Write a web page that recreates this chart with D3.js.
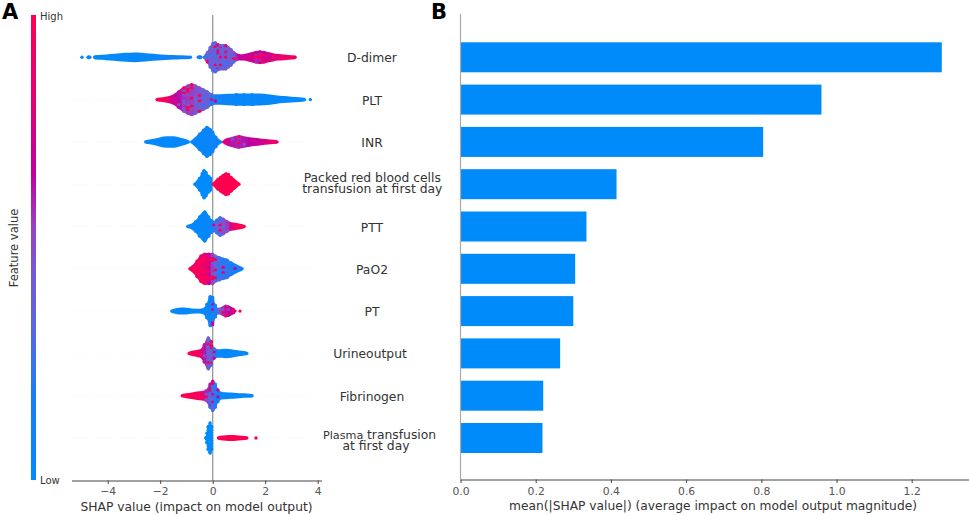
<!DOCTYPE html>
<html><head><meta charset="utf-8">
<script src="https://cdn.jsdelivr.net/npm/d3@7"></script>
<style>
html,body{margin:0;padding:0;background:#fff}
svg{display:block}
text{font-family:"DejaVu Sans",sans-serif}
</style></head><body>
<svg id="c" width="969" height="515"></svg>
<script>
const features = ["D-dimer","PLT","INR","Packed red blood cells\ntransfusion at first day","PTT","PaO2","PT","Urineoutput","Fibrinogen","Plasma transfusion\nat first day"];
const meanAbsShap = [1.28,0.96,0.805,0.415,0.335,0.305,0.30,0.265,0.22,0.218];
const shapTicks = [-4,-2,0,2,4];
const meanTicks = [0,0.2,0.4,0.6,0.8,1.0,1.2];

// knots of each swarm: shap value, local point density, mean feature value (0 low .. 1 high)
const dDimerShap = [-4.98,-4.93,-4.75,-4.68,-4.6,-4.5,-4.2,-3.9,-3.6,-3.3,-3.0,-2.7,-2.4,-2.1,-1.8,-1.5,-1.2,-0.85,-0.7,-0.55,-0.45,-0.38,-0.32,-0.2,-0.1,0,0.1,0.2,0.3,0.4,0.5,0.6,0.7,0.8,0.9,1.0,1.1,1.2,1.35,1.5,1.65,1.8,1.95,2.1,2.3,2.5,2.7,2.9,3.14];
const dDimerDensity = [1.5,0,1.5,1.5,0,1.8,2.2,3,3.6,4.2,4.6,4.2,3.4,2.8,2.3,1.9,1.6,1.3,0,1.6,1.6,0,2.5,6,11,15,16,14,13,13,13,11,9,6,4,3,2.8,3,4,5,6,6.5,6,5,3.8,3,2.6,2,1.5];
const dDimerFeature = [.02,.02,.02,.02,.02,.02,.03,.03,.04,.04,.05,.05,.07,.08,.1,.1,.1,.1,.1,.1,.1,.2,.36,.4,.42,.42,.42,.42,.42,.42,.42,.42,.45,.48,.6,.66,.68,.7,.72,.74,.72,.7,.72,.76,.8,.85,.88,.92,.95];

const pltShap = [-2.12,-1.9,-1.7,-1.5,-1.3,-1.1,-0.95,-0.8,-0.65,-0.5,-0.35,-0.2,-0.05,0.1,0.3,0.6,0.9,1.2,1.5,1.8,2.1,2.4,2.7,3.0,3.3,3.5,3.62,3.72];
const pltDensity = [1.5,2,3,5,9,13,15,16.5,15,13,11,9,6,5,5,5.5,6,6,6,5.8,5.2,4,3.2,2.5,2,1.5,0,1.6];
const pltFeature = [1,.98,.88,.72,.64,.58,.56,.54,.5,.46,.42,.38,.3,.18,.1,.07,.05,.05,.05,.05,.04,.04,.03,.03,.03,.03,.03,.03];

const inrShap = [-2.55,-2.4,-2.2,-2.0,-1.75,-1.5,-1.3,-1.1,-0.93,-0.87,-0.8,-0.65,-0.5,-0.35,-0.22,-0.1,0,0.12,0.3,0.36,0.42,0.55,0.75,1.0,1.2,1.4,1.6,1.8,2.0,2.2,2.45];
const inrDensity = [1.5,2,3,4.5,5.5,5.5,4.5,3,1.5,0,1.5,5,9,13,16,14,11,6,1.5,0,1.8,3.5,5,6.5,5.5,4.5,3.8,3.2,2.6,2,1.4];
const inrFeature = [.03,.03,.03,.03,.03,.03,.03,.03,.03,.03,.03,.04,.05,.06,.07,.08,.08,.1,.12,.3,.9,.75,.62,.6,.62,.66,.68,.72,.76,.85,.95];

const packedShap = [-0.68,-0.6,-0.5,-0.4,-0.33,-0.25,-0.15,-0.08,-0.03,0,0.02,0.1,0.2,0.3,0.4,0.5,0.6,0.7,0.85,1.0];
const packedDensity = [1.5,4,7,12,15,13,9,7,3,0,1.5,4,6,8,10,11.7,11,8,5,1.5];
const packedFeature = [0,0,0,0,0,0,0,0,0,.5,1,1,1,1,1,1,1,1,1,1];

const pttShap = [-0.95,-0.82,-0.65,-0.5,-0.3,-0.15,-0.05,0.05,0.15,0.28,0.4,0.55,0.7,0.85,1.0,1.2];
const pttDensity = [1.5,2.5,6,11,16,11,7,5.5,7.5,10,8.5,6,4,3.5,2.8,1.5];
const pttFeature = [.03,.04,.04,.04,.05,.05,.06,.25,.36,.42,.48,.56,.76,.92,.98,1];

const pao2Shap = [-0.87,-0.75,-0.6,-0.45,-0.3,-0.15,0,0.1,0.25,0.4,0.55,0.7,0.85,1.0,1.12];
const pao2Density = [1.5,4,9,14,16,16,16,14,12.5,11,10,7,5,3,1.5];
const pao2Feature = [.92,.96,.96,.96,.92,.85,.55,.34,.28,.26,.24,.2,.18,.12,.08];

const ptShap = [-1.56,-1.4,-1.2,-1.0,-0.8,-0.5,-0.35,-0.22,-0.1,0,0.1,0.2,0.3,0.4,0.5,0.6,0.72,0.85,0.95,1.04];
const ptDensity = [1.5,2.5,3.2,3,2.4,2,3,8,16,15,7,3,3.5,5,6,5.5,3.8,2.2,0,1.6];
const ptFeature = [.03,.03,.03,.03,.03,.04,.05,.07,.09,.14,.2,.35,.5,.58,.62,.66,.72,.82,.95,1];

const urineShap = [-0.9,-0.75,-0.6,-0.45,-0.32,-0.17,-0.05,0.05,0.2,0.35,0.5,0.7,0.9,1.1,1.3];
const urineDensity = [1.5,2.5,3.2,4.5,10,17,13,6,4,4.2,4.5,4,3,2.2,1.5];
const urineFeature = [.95,.95,.95,.88,.62,.48,.44,.25,.06,.05,.05,.04,.04,.04,.04];

const fibShap = [-1.16,-1.0,-0.8,-0.6,-0.4,-0.25,-0.1,0,0.1,0.2,0.35,0.5,0.7,0.9,1.1,1.3,1.5];
const fibDensity = [1.5,2.2,3,4,4.5,6,13,16,13,7,3.5,3.2,2.8,2.4,2,1.8,1.4];
const fibFeature = [1,1,.98,.96,.88,.6,.34,.3,.24,.16,.08,.05,.05,.04,.04,.04,.04];

const plasmaShap = [-0.27,-0.22,-0.17,-0.1,-0.04,-0.02,0.22,0.3,0.5,0.7,0.9,1.1,1.3,1.45,1.65];
const plasmaDensity = [1.5,6,13,16.5,13,0,1.5,2,2.4,2.7,2.5,2,1.5,0,1.8];
const plasmaFeature = [0,0,0,0,0,.5,1,1,1,1,1,1,1,1,1];

const swarms = [
 [dDimerShap,dDimerDensity,dDimerFeature],[pltShap,pltDensity,pltFeature],[inrShap,inrDensity,inrFeature],
 [packedShap,packedDensity,packedFeature],[pttShap,pttDensity,pttFeature],[pao2Shap,pao2Density,pao2Feature],
 [ptShap,ptDensity,ptFeature],[urineShap,urineDensity,urineFeature],[fibShap,fibDensity,fibFeature],[plasmaShap,plasmaDensity,plasmaFeature]];

const svg = d3.select("#c");
const defs = svg.append("defs");
const ink = "#333";

const colorStops = [[0,"#008bfb"],[0.18,"#1a7df5"],[0.33,"#5a68e0"],[0.45,"#7a58d0"],[0.55,"#9a40c0"],[0.66,"#c000a0"],[0.8,"#e0007c"],[1,"#ff0051"]];
const color = d3.scaleLinear().domain(colorStops.map(d=>d[0])).range(colorStops.map(d=>d[1])).clamp(true);

const xS = d3.scaleLinear().domain([-4,4]).range([107.7,317.7]);
const xB = d3.scaleLinear().domain([0,1.2]).range([460.5,911.7]);
const y = d3.scalePoint().domain(features).range([57.3,438]);
const spread = d3.scaleLinear().domain([0,16]).range([0,15.5]);
const AXIS_Y = 480.5;

svg.append("g").selectAll("line").data(features).join("line")
  .attr("x1",72).attr("x2",312).attr("y1",d=>y(d)).attr("y2",d=>y(d))
  .attr("stroke","#f0f0f0").attr("stroke-width",.8).attr("stroke-dasharray","1 2");

svg.append("line").attr("x1",xS(0)).attr("x2",xS(0)).attr("y1",15).attr("y2",AXIS_Y)
  .attr("stroke","#999").attr("stroke-width",1.3);

features.forEach((name,i)=>{
  const [sx,sd,sf] = swarms[i];
  const pts = sx.map((v,k)=>({v,d:sd[k],f:sf[k]}));
  const cy = y(name);
  const gid = "sw"+i, x0 = xS(sx[0]), x1 = xS(sx[sx.length-1]);
  const g = defs.append("linearGradient").attr("id",gid).attr("gradientUnits","userSpaceOnUse")
    .attr("x1",x0).attr("x2",x1).attr("y1",0).attr("y2",0);
  pts.forEach(p=>g.append("stop").attr("offset",(xS(p.v)-x0)/(x1-x0)).attr("stop-color",color(p.f)));
  const area = d3.area().defined(p=>p.d>0).x(p=>xS(p.v))
    .y0(p=>cy-spread(p.d)-.4).y1(p=>cy+spread(p.d)+.4).curve(d3.curveMonotoneX);
  svg.append("path").attr("d",area(pts)).attr("fill",`url(#${gid})`);
  const dots = [];
  pts.forEach((p,k)=>{
    if(!(p.d>0)) return;
    const tip = k===0 || k===pts.length-1 || !(pts[k-1].d>0) || !(pts[k+1].d>0);
    if(p.d<4.5 && !tip) return;
    const h = Math.max(0,spread(p.d)-1);
    const n = Math.floor(h/2.6);
    const offs = [];
    const shift = (k%2)*1.3;
    for(let j=-n;j<=n;j++){ const o=j*2.6+shift; if(Math.abs(o)<=h) offs.push(o); }
    if(p.d>=6) offs.push(-h,h);
    if(!offs.length) offs.push(0);
    offs.forEach((o,j)=>{
      const mixed = p.f>0.1 && p.f<0.98;
      const pick = (k*k*3+j*j*5+k*j*2+j)%7;
      let f = p.f;
      if(mixed){ if(pick===0) f = Math.min(1,p.f+0.5); else if(pick===3||pick===5) f = Math.max(0,p.f-0.14); }
      dots.push({x:xS(p.v),y:cy+o,f});
    });
  });
  svg.append("g").selectAll("circle").data(dots).join("circle")
    .attr("cx",d=>d.x).attr("cy",d=>d.y).attr("r",1.7).attr("fill",d=>color(d.f));
});

function style(g){
  g.select(".domain").attr("stroke","#444").attr("stroke-width",1);
  g.selectAll(".tick line").attr("stroke","#444");
  g.selectAll(".tick text").attr("fill","#555").attr("font-size",10.8).attr("font-family","DejaVu Sans");
}
svg.append("g").attr("transform",`translate(0,${AXIS_Y})`)
  .call(d3.axisBottom(xS).tickValues(shapTicks).tickFormat(d3.format("d")).tickSize(3.5).tickPadding(3.5).tickSizeOuter(0)).call(style)
  .select(".domain").attr("d","M72,0.5H322");
svg.append("g").attr("transform",`translate(0,${AXIS_Y-1})`)
  .call(d3.axisBottom(xB).tickValues(meanTicks).tickFormat(d3.format(".1f")).tickSize(3.5).tickPadding(4).tickSizeOuter(0)).call(style)
  .select(".domain").attr("d","M460.5,0.5H969");

svg.append("g").selectAll("rect").data(features).join("rect")
  .attr("x",xB(0)).attr("y",d=>y(d)-15).attr("height",30)
  .attr("width",(d,i)=>xB(meanAbsShap[i])-xB(0)).attr("fill","#008bfb");
svg.append("line").attr("x1",xB(0)).attr("x2",xB(0)).attr("y1",14).attr("y2",AXIS_Y-1)
  .attr("stroke","#aaa").attr("stroke-width",1.2);

features.forEach(name=>{
  const lines = name.split("\n");
  const isPlasma = name.startsWith("Plasma");
  const fs = 12.35;
  if(lines.length===1){
    svg.append("text").attr("text-anchor","middle").attr("fill",ink).attr("font-size",fs)
      .attr("x",name==="Urineoutput"?370:372).attr("y",y(name)+5).text(name);
  } else if(isPlasma){
    const [first,...rest] = lines[0].split(" ");
    svg.append("text").attr("fill",ink).attr("font-family","Open Sans").attr("font-size",11.2)
      .attr("x",323).attr("y",y(name)+.5).text(first);
    svg.append("text").attr("fill",ink).attr("font-size",fs)
      .attr("x",367).attr("y",y(name)+1).text(rest.join(" "));
    svg.append("text").attr("text-anchor","middle").attr("fill",ink).attr("font-size",fs)
      .attr("x",376).attr("y",y(name)+12.3).text(lines[1]);
  } else {
    svg.append("text").attr("text-anchor","middle").attr("fill",ink).attr("font-size",fs)
      .attr("x",372.3).attr("y",y(name)-2.4).text(lines[0]);
    svg.append("text").attr("text-anchor","middle").attr("fill",ink).attr("font-size",fs)
      .attr("x",372.3).attr("y",y(name)+9).text(lines[1]);
  }
});

const cb = defs.append("linearGradient").attr("id","cb").attr("x1",0).attr("x2",0).attr("y1",1).attr("y2",0);
colorStops.forEach(s=>cb.append("stop").attr("offset",s[0]).attr("stop-color",s[1]));
svg.append("rect").attr("x",31).attr("y",15).attr("width",5).attr("height",465).attr("fill","url(#cb)");
svg.append("text").attr("x",40).attr("y",20).attr("font-size",10).attr("fill",ink).text("High");
svg.append("text").attr("x",40).attr("y",484).attr("font-size",10).attr("fill",ink).text("Low");
svg.append("text").attr("transform","translate(17.5,248) rotate(-90)").attr("text-anchor","middle")
  .attr("font-size",11.5).attr("fill",ink).text("Feature value");

svg.append("text").attr("x",196.5).attr("y",510.5).attr("text-anchor","middle").attr("font-size",12.3).attr("fill",ink)
  .text("SHAP value (impact on model output)");
svg.append("text").attr("x",713).attr("y",510).attr("text-anchor","middle").attr("font-size",12.25).attr("fill",ink)
  .text("mean(|SHAP value|) (average impact on model output magnitude)");

svg.append("text").attr("x",2).attr("y",19).attr("font-family","Liberation Sans").attr("font-weight",700).attr("font-size",21).attr("fill","#000").text("A");
svg.append("text").attr("x",431).attr("y",19).attr("font-family","Liberation Sans").attr("font-weight",700).attr("font-size",21).attr("fill","#000").text("B");
</script></body></html>
